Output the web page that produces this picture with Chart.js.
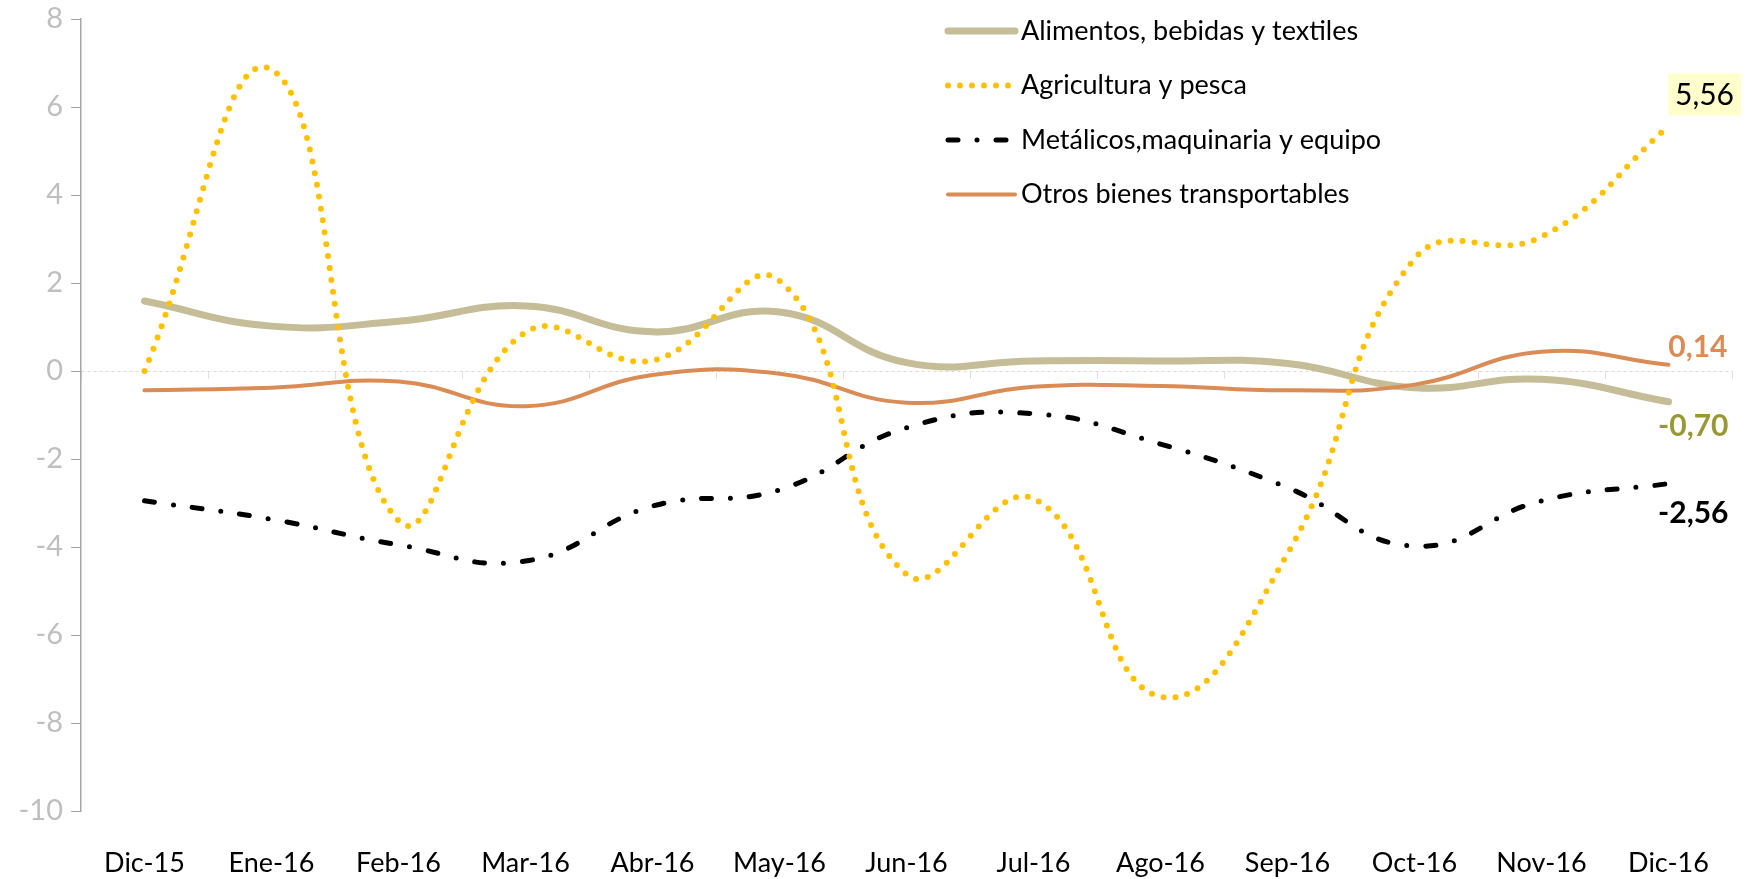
<!DOCTYPE html>
<html>
<head>
<meta charset="utf-8">
<script src="https://cdn.jsdelivr.net/npm/chart.js@4.4.0/dist/chart.umd.min.js"></script>
<style>
  html, body { margin: 0; padding: 0; background: #fff; }
  #wrap { width: 1752px; height: 879px; }
</style>
</head>
<body>
<div id="wrap"><canvas id="mycanvas"></canvas></div>
<script>
// meses
var meses = ['Dic-15', 'Ene-16', 'Feb-16', 'Mar-16', 'Abr-16', 'May-16', 'Jun-16',
             'Jul-16', 'Ago-16', 'Sep-16', 'Oct-16', 'Nov-16', 'Dic-16'];

// variaciones por grupo
var alimentos   = [1.59, 1.02, 1.13, 1.48, 0.89, 1.34, 0.19, 0.23, 0.23, 0.17, -0.38, -0.19, -0.70];
var agricultura = [0.00, 6.85, -3.40, 0.88, 0.24, 2.05, -4.62, -2.90, -7.40, -4.15, 2.55, 3.05, 5.56];
var metalicos   = [-2.95, -3.37, -3.95, -4.32, -3.07, -2.70, -1.29, -0.97, -1.66, -2.65, -3.98, -2.95, -2.56];
var otros       = [-0.44, -0.38, -0.24, -0.80, -0.09, -0.06, -0.72, -0.36, -0.34, -0.44, -0.31, 0.44, 0.14];

// eje y
var yMin = -10;
var yMax = 8;
var yPaso = 2;

// etiquetas del ultimo mes
var ultimos = ['0,14', '5,56', '-0,70', '-2,56'];

var fuente = 'Lato, "Open Sans", sans-serif';

var chartdata = {
  labels: meses,
  datasets: [
    {
      label: 'Alimentos, bebidas y textiles',
      data: alimentos,
      borderColor: '#c4bd97',
      borderWidth: 7,
      borderCapStyle: 'round',
      tension: 0.45,
      pointRadius: 0,
      order: 4
    },
    {
      label: 'Agricultura y pesca',
      data: agricultura,
      borderColor: '#ffc000',
      borderWidth: 6,
      borderDash: [0, 12],
      borderCapStyle: 'round',
      tension: 0.45,
      pointRadius: 0,
      order: 1
    },
    {
      label: 'Metálicos,maquinaria y equipo',
      data: metalicos,
      borderColor: '#000000',
      borderWidth: 5,
      borderDash: [10, 19, 0, 19],
      borderCapStyle: 'round',
      tension: 0.45,
      pointRadius: 0,
      order: 2
    },
    {
      label: 'Otros bienes transportables',
      data: otros,
      borderColor: '#d98c55',
      borderWidth: 4,
      borderCapStyle: 'round',
      tension: 0.45,
      pointRadius: 0,
      order: 3
    }
  ]
};

// leyenda dentro del grafico y etiquetas al final de cada serie
var extras = {
  id: 'extras',
  afterDraw: function(chart) {
    var ctx = chart.ctx;
    var ds = chart.data.datasets;

    ctx.save();
    var lx = 945, ly = 31, paso = 54.5;
    for (var i = 0; i < ds.length; i++) {
      var y = ly + i * paso;
      ctx.beginPath();
      ctx.strokeStyle = ds[i].borderColor;
      ctx.lineWidth = ds[i].borderWidth;
      ctx.lineCap = ds[i].borderCapStyle || 'butt';
      ctx.setLineDash(ds[i].borderDash || []);
      ctx.moveTo(lx + 3, y);
      ctx.lineTo(lx + 70, y);
      ctx.stroke();
      ctx.setLineDash([]);
      ctx.fillStyle = '#000';
      ctx.font = '27px ' + fuente;
      ctx.textBaseline = 'middle';
      ctx.textAlign = 'left';
      ctx.fillText(ds[i].label, lx + 76, y);
    }

    // etiquetas
    var n = meses.length - 1;
    var pAgr = chart.getDatasetMeta(1).data[n];
    var pAli = chart.getDatasetMeta(0).data[n];
    var pMet = chart.getDatasetMeta(2).data[n];
    var pOtr = chart.getDatasetMeta(3).data[n];

    // 5,56 en recuadro
    ctx.font = '30px ' + fuente;
    ctx.textAlign = 'center';
    ctx.textBaseline = 'middle';
    var w = ctx.measureText(ultimos[1]).width + 14;
    var cx = pAgr.x + 36, cy = pAgr.y - 32;
    ctx.fillStyle = '#ffffcc';
    ctx.fillRect(cx - w / 2, cy - 21, w, 42);
    ctx.fillStyle = '#000';
    ctx.fillText(ultimos[1], cx, cy + 1);

    ctx.font = 'bold 30px ' + fuente;
    ctx.textAlign = 'right';
    ctx.fillStyle = '#d98c55';
    ctx.fillText(ultimos[0], pOtr.x + 59, pOtr.y - 18);
    ctx.fillStyle = '#999933';
    ctx.fillText(ultimos[2], pAli.x + 60, pAli.y + 25);
    ctx.fillStyle = '#000';
    ctx.fillText(ultimos[3], pMet.x + 60, pMet.y + 30);
    ctx.restore();
  }
};

var ctx = document.getElementById('mycanvas');

var lineGraph = new Chart(ctx, {
  type: 'line',
  data: chartdata,
  options: {
    responsive: true,
    maintainAspectRatio: false,
    animation: false,
    layout: { padding: { top: 19, right: 20, left: 0, bottom: 0 } },
    plugins: {
      legend: { display: false },
      tooltip: { enabled: false }
    },
    scales: {
      x: {
        offset: true,
        grid: { display: false },
        border: { display: false },
        ticks: {
          color: '#000',
          font: { family: fuente, size: 27 },
          maxRotation: 0,
          autoSkip: false,
          padding: 28
        },
        afterFit: function(scale) { scale.height = 68; }
      },
      x2: {
        type: 'category',
        axis: 'x',
        position: { y: 0 },
        offset: true,
        grid: {
          offset: true,
          drawOnChartArea: false,
          drawTicks: true,
          tickLength: 8,
          tickColor: '#e0e0e0'
        },
        border: { display: false },
        ticks: { display: false }
      },
      y: {
        min: yMin,
        max: yMax,
        ticks: {
          stepSize: yPaso,
          color: '#bfbfbf',
          font: { family: fuente, size: 29 },
          padding: 8
        },
        grid: {
          drawTicks: true,
          tickLength: 10,
          tickColor: '#a6a6a6',
          color: function(c) { return c.tick && c.tick.value === 0 ? '#d9d9d9' : 'rgba(0,0,0,0)'; },
          lineWidth: 1
        },
        border: { display: true, color: '#a6a6a6', width: 1.5, dash: [3, 3] },
        afterFit: function(scale) {
          scale.width = 81;
          scale.paddingTop = 0;
          scale.paddingBottom = 0;
        }
      }
    }
  },
  plugins: [extras]
});
</script>
</body>
</html>
